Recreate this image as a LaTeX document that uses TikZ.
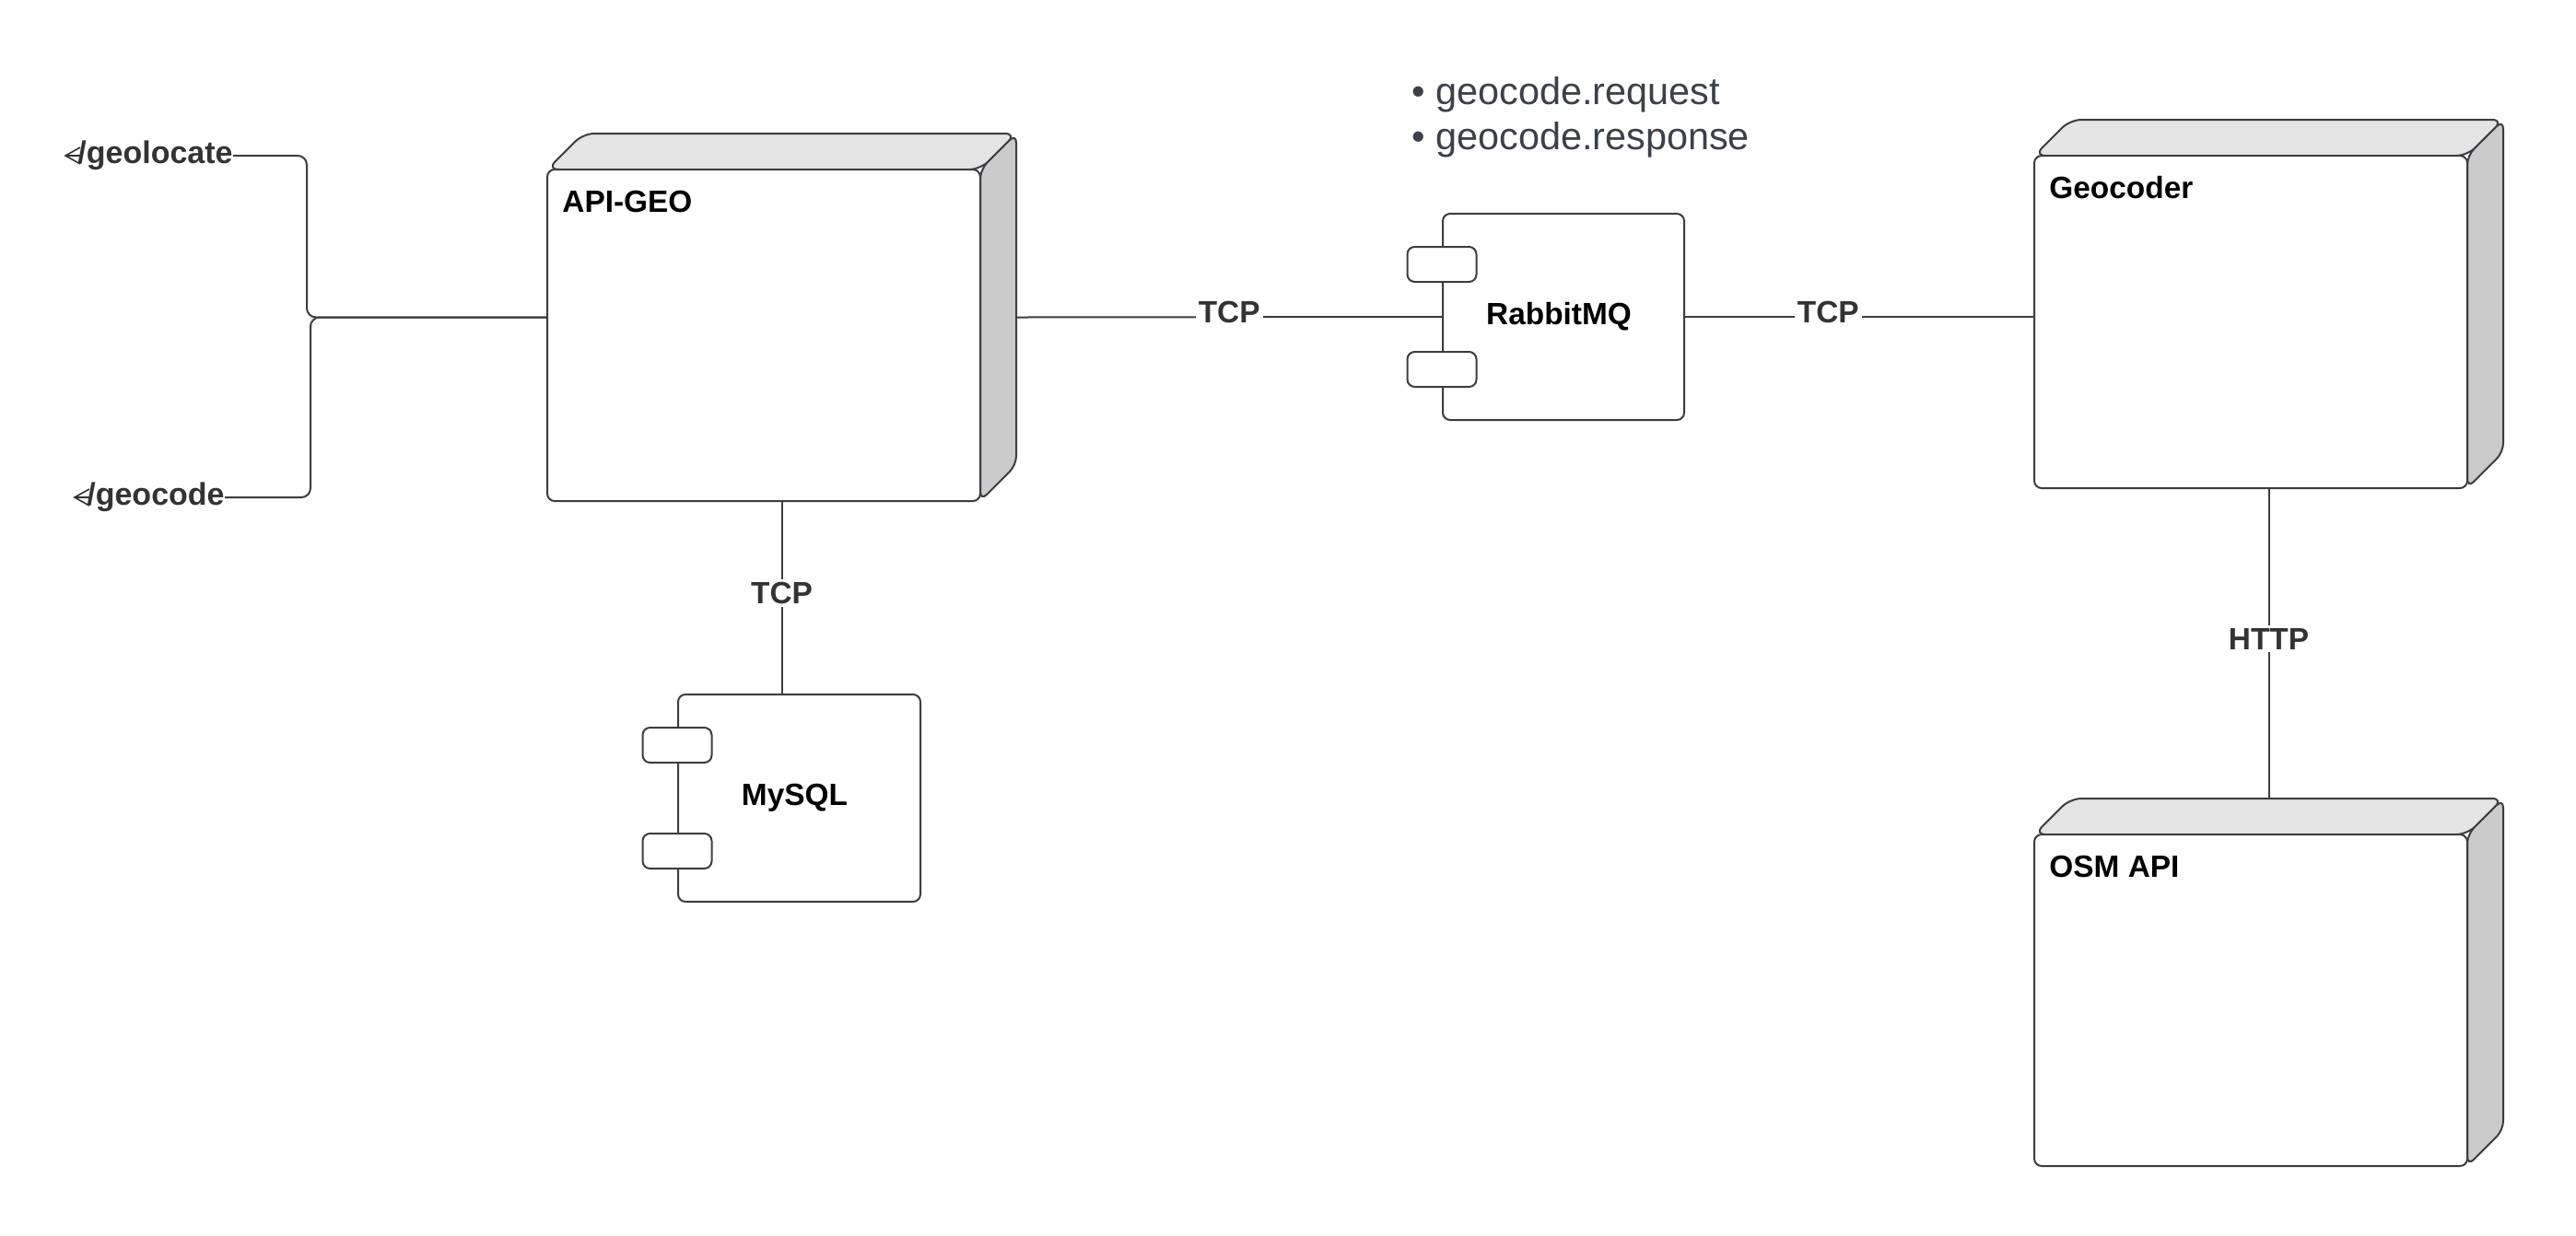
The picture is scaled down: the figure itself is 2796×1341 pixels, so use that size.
\documentclass[tikz,border=0pt]{standalone}
\usepackage{fontspec}
\setmainfont{Liberation Sans}
\definecolor{ln}{HTML}{3A3D42}
\definecolor{topc}{HTML}{E4E4E4}
\definecolor{sidec}{HTML}{CBCBCB}
\definecolor{lbl}{HTML}{333333}
\definecolor{bul}{HTML}{3C4049}
\newcommand{\lblfont}{\fontsize{16.7pt}{19pt}\selectfont\bfseries}
\newcommand{\iflblfont}{\fontsize{17pt}{20pt}\selectfont\bfseries}
\newcommand{\bulfont}{\fontsize{20.7pt}{25pt}\selectfont}
\tikzset{
  conn/.style={draw=ln, line width=1pt},
  devtop/.style={fill=topc, draw=ln, line width=1pt, rounded corners=6pt, line join=round},
  devside/.style={fill=sidec, draw=ln, line width=1pt, rounded corners=5pt, line join=round},
  devfront/.style={fill=white, draw=ln, line width=1pt, rounded corners=4pt},
  devall/.style={inner sep=0pt, draw=none},
  devlabel/.style={anchor=base west, inner sep=0pt, font=\lblfont, text=black},
  comp/.style={draw=ln, fill=white, line width=1pt, rounded corners=4pt, inner sep=0pt, font=\lblfont, text=black},
  tabbox/.style={draw=ln, fill=white, line width=1pt, rounded corners=4pt, minimum width=37.5pt, minimum height=19pt, inner sep=0pt},
  clabel/.style={fill=white, inner sep=1.5pt, font=\lblfont, text=lbl, yshift=2.5pt},
  iface/.style={anchor=east, inner sep=0pt, font=\iflblfont, text=lbl},
  ifarrow/.style={draw=lbl, line width=0.8pt, line join=miter},
  bulletitem/.style={anchor=base west, inner sep=0pt, font=\bulfont, text=bul},
}
% #1 name, #2 x1, #3 y1, #4 x2, #5 y2 (front face, px), #6 label
\newcommand{\mkdevbox}[6]{%
  \path[devtop] (#2,#3) -- (#2+39,#3-39) -- (#4+39,#3-39) -- (#4,#3) -- cycle;
  \path[devside] (#4,#3) -- (#4+39,#3-39) -- (#4+39,#5-39) -- (#4,#5) -- cycle;
  \path[devfront] (#2,#3) rectangle (#4,#5);
  \pgfmathsetmacro{\devW}{(#4-#2+39)*0.5}%
  \pgfmathsetmacro{\devH}{(#5-#3+39)*0.5}%
  \node[devall, minimum width=\devW pt, minimum height=\devH pt] (#1) at ({(#2+#4+39)/2},{(#3+#5-39)/2}) {};
  \node[devlabel] (#1l) at (#2+16,#3+46) {#6};
}
\begin{document}
\begin{tikzpicture}[x=0.5pt,y=-0.5pt]
\useasboundingbox[fill=white] (0,0) rectangle (2796,1341);

% device nodes
\mkdevbox{api}{594}{184}{1064}{544}{API-GEO}
\mkdevbox{geo}{2208}{169}{2678}{530}{Geocoder}
\mkdevbox{osm}{2208}{906}{2678}{1266}{OSM API}

% components
\node[comp, minimum width=131pt, minimum height=112pt] (rabbit) at (1697,344) {\hspace*{-5pt}RabbitMQ};
\node[tabbox] (rtab1) at ([yshift=-28pt]rabbit.north west) {};
\node[tabbox] (rtab2) at ([yshift=28pt]rabbit.south west) {};

\node[comp, minimum width=131.5pt, minimum height=112.5pt] (mysql) at (867.5,866.5) {\hspace*{-5pt}MySQL};
\node[tabbox] (mtab1) at ([yshift=-28pt]mysql.north west) {};
\node[tabbox] (mtab2) at ([yshift=28pt]mysql.south west) {};

% queue names
\node[bulletitem] (b1) at (1532,113) {• geocode.request};
\node[bulletitem] (b2) at (1532,162) {• geocode.response};

% interfaces
\node[iface] (gl) at (253,169) {/geolocate};
\node[iface] (gc) at (244,540) {/geocode};
\draw[ifarrow] ([xshift=1.5pt,yshift=4.5pt]gl.west) -- ([xshift=-6.5pt]gl.west) -- ([xshift=1.5pt,yshift=-4.5pt]gl.west);
\draw[ifarrow] ([xshift=-6.5pt]gl.west) -- ([xshift=1.5pt]gl.west);
\draw[ifarrow] ([xshift=1.5pt,yshift=4.5pt]gc.west) -- ([xshift=-6.5pt]gc.west) -- ([xshift=1.5pt,yshift=-4.5pt]gc.west);
\draw[ifarrow] ([xshift=-6.5pt]gc.west) -- ([xshift=1.5pt]gc.west);

\draw[conn, rounded corners=5pt] (gl.east) -- (333,169) -- (333,344.5) -- (api.west);
\draw[conn, rounded corners=5pt] (gc.east) -- (337,540) -- (337,344.5) -- (api.west);

% connectors
\draw[conn] (api.east) -- (rabbit.west) node[clabel, midway] {TCP};
\draw[conn] (rabbit.east) -- (rabbit.east -| geo.west) node[clabel, pos=0.41] {TCP};
\draw[conn] (api.south) -- (api.south |- mysql.north) node[clabel, midway] {TCP};
\draw[conn] (geo.south) -- (osm.north) node[clabel, midway] {HTTP};
\end{tikzpicture}
\end{document}
